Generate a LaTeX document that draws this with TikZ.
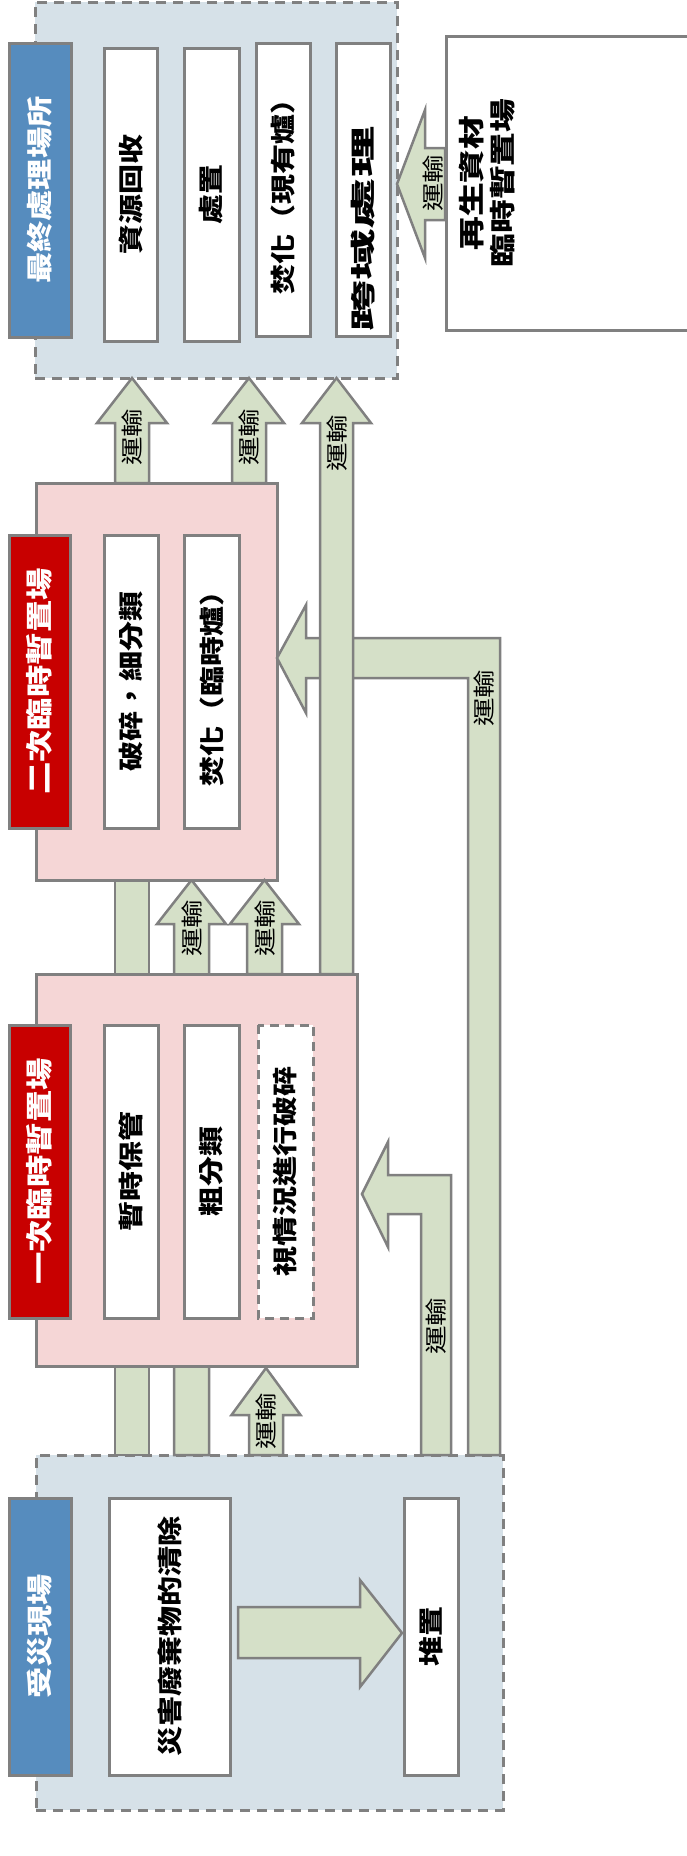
\documentclass[tikz,border=0pt]{standalone}
\usepackage{fontspec}
\newfontfamily\cjk[FakeStretch=1.2]{Noto Sans CJK TC}
\newfontfamily\cjkw[FakeStretch=1.3]{Noto Sans CJK TC}
\newfontfamily\cjkx[FakeStretch=2.05]{Noto Sans CJK TC}
\definecolor{bgblue}{RGB}{214,225,232}
\definecolor{pinkbg}{RGB}{245,214,214}
\definecolor{arrgreen}{RGB}{213,224,200}
\definecolor{gborder}{RGB}{128,128,128}
\definecolor{lblue}{RGB}{86,140,190}
\definecolor{lred}{RGB}{200,0,0}
\tikzset{
  site/.style={draw=gborder, fill=bgblue, line width=3pt, dash pattern=on 10pt off 7pt, inner sep=0pt, outer sep=0pt},
  zone/.style={draw=gborder, fill=pinkbg, line width=3pt, inner sep=0pt, outer sep=0pt},
  lab/.style={draw=gborder, line width=3pt, rotate=90, inner sep=0pt, outer sep=0pt, text=white, font=\cjk\bfseries\fontsize{26pt}{30pt}\selectfont},
  bluelab/.style={lab, fill=lblue},
  redlab/.style={lab, fill=lred, font=\cjk\bfseries\fontsize{27pt}{30pt}\selectfont},
  task/.style={draw=gborder, fill=white, line width=3pt, rotate=90, inner sep=0pt, outer sep=0pt, font=\cjk\bfseries\fontsize{25pt}{30pt}\selectfont},
  tasktext/.style={rotate=90, inner sep=0pt, font=\cjkx\bfseries\fontsize{25pt}{30pt}\selectfont},
  dtask/.style={task, dash pattern=on 9pt off 6pt},
  arr/.style={draw=gborder, fill=arrgreen, line width=2.5pt, line join=miter},
  tr/.style={rotate=90, inner sep=0pt, font=\cjkw\fontsize{22pt}{26pt}\selectfont},
}
% #1 centre x, #2 shaft half width, #3 head half width, #4 bottom y, #5 head base y, #6 tip y
\newcommand{\BlockUp}[6]{%
  \draw[arr] (#1-#2,#4) -- (#1-#2,#5) -- (#1-#3,#5) -- (#1,#6) -- (#1+#3,#5) -- (#1+#2,#5) -- (#1+#2,#4) -- cycle;}
\begin{document}
\begin{tikzpicture}[x=1pt,y=-1pt]
\useasboundingbox (0,0) rectangle (687,1856);
\clip (0,0) rectangle (687,1856);
\fill[white] (0,0) rectangle (687,1856);

% outer sites
\node[site, minimum width=362pt, minimum height=376pt] (final) at (216,190) {};
\node[site, minimum width=467pt, minimum height=355pt] (disaster) at (269.5,1632.5) {};

% arrows running behind the primary site
\draw[arr] (115,1455) rectangle (149,880);
\BlockUp{191.5}{17.5}{34.5}{1455}{924}{880}

% temporary sites
\node[zone, minimum width=241pt, minimum height=397pt] (second) at (156.5,681.5) {};
\node[zone, minimum width=321pt, minimum height=392pt] (first) at (196.5,1170) {};

% final site contents
\node[bluelab, minimum width=294pt, minimum height=62pt] (finallab) at (40,190) {最終處理場所};
\node[task, minimum width=293pt, minimum height=53pt] (recover) at (130.5,194.5) {資源回收};
\node[task, minimum width=293pt, minimum height=55pt] (dispose) at (211.5,194.5) {處置};
\node[task, minimum width=293pt, minimum height=54pt] (incin) at (283,189.5) {焚化（現有爐）};
\node[task, minimum width=293pt, minimum height=54pt] (cross) at (363,189.5) {};
\node[tasktext] (crosstext) at (363,229) {跨域處理};
\node[draw=gborder, fill=white, line width=3pt, inner sep=0pt, minimum width=254pt, minimum height=294pt] (recyc) at (573,183) {};
\node[rotate=90, inner sep=0pt, align=center, font=\cjkw\bfseries\fontsize{26pt}{31pt}\selectfont] (recyctext) at (487,183) {再生資材\\臨時暫置場};

% secondary site contents
\node[redlab, minimum width=293pt, minimum height=61pt] (secondlab) at (39.5,681.5) {二次臨時暫置場};
\node[task, minimum width=293pt, minimum height=54pt] (crush) at (131,681.5) {破碎，細分類};
\node[task, minimum width=293pt, minimum height=55pt] (tempinc) at (211.5,681.5) {焚化（臨時爐）};

% primary site contents
\node[redlab, minimum width=293pt, minimum height=61pt] (firstlab) at (39.5,1171.5) {一次臨時暫置場};
\node[task, minimum width=293pt, minimum height=54pt] (store) at (131,1171.5) {暫時保管};
\node[task, minimum width=293pt, minimum height=55pt] (rough) at (211.5,1171.5) {粗分類};
\node[dtask, minimum width=293pt, minimum height=55pt] (opt) at (285.5,1171.5) {視情況進行破碎};

% disaster site contents
\node[bluelab, minimum width=277pt, minimum height=62pt] (disasterlab) at (40,1636.5) {受災現場};
\node[task, minimum width=277pt, minimum height=121pt] (clear) at (169.5,1636.5) {災害廢棄物的清除};
\node[task, minimum width=277pt, minimum height=54pt] (pile) at (431,1636.5) {堆置};

% transport arrows
\BlockUp{132}{17}{35}{483}{423}{378}
\BlockUp{249}{17}{35}{483}{423}{378}
\BlockUp{264.5}{17.5}{34.5}{974}{924}{880}
\BlockUp{266}{17}{34.5}{1455}{1415}{1368}
\draw[arr] (277,658) -- (306,605) -- (306,638) -- (500,638) -- (500,1455) -- (468,1455) -- (468,678) -- (306,678) -- (306,713) -- cycle;
\draw[arr] (362,1194) -- (388,1142) -- (388,1175) -- (451,1175) -- (451,1455) -- (421,1455) -- (421,1214) -- (388,1214) -- (388,1247) -- cycle;
\BlockUp{336.5}{16.5}{34.5}{974}{423}{378}
\draw[arr] (445,148) -- (425,148) -- (425,110) -- (397,184) -- (425,258) -- (425,220) -- (445,220) -- cycle;
\draw[arr] (238,1607) -- (360,1607) -- (360,1580) -- (402,1633) -- (360,1687) -- (360,1658) -- (238,1658) -- cycle;

% transport labels
\node[tr] (t1) at (132,437) {運輸};
\node[tr] (t2) at (249,437) {運輸};
\node[tr] (t3) at (337,443) {運輸};
\node[tr] (t4) at (433,183) {運輸};
\node[tr] (t5) at (484,698) {運輸};
\node[tr] (t6) at (192,928) {運輸};
\node[tr] (t7) at (265,928) {運輸};
\node[tr] (t8) at (436,1326) {運輸};
\node[tr] (t9) at (266,1421) {運輸};
\end{tikzpicture}
\end{document}
